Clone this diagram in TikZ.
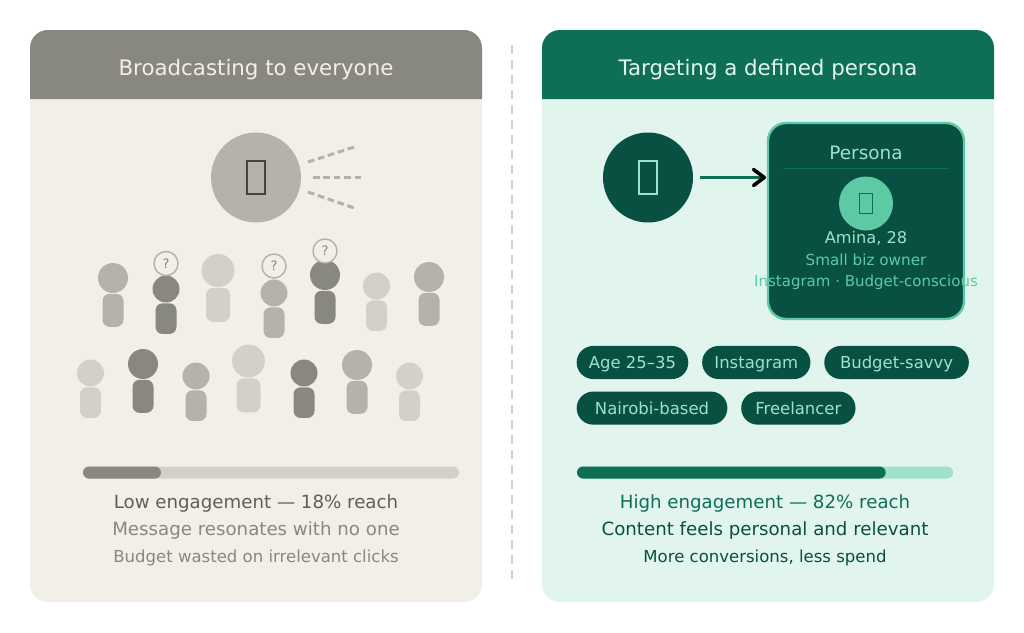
\documentclass[tikz,border=0pt]{standalone}
\usepackage{fontspec}
\setmainfont{DejaVu Sans}
\usetikzlibrary{positioning,arrows.meta}
\definecolor{GREY_DARK}{HTML}{888780}
\definecolor{GREY_MID}{HTML}{B4B2A9}
\definecolor{GREY_LIGHT}{HTML}{D3D1C7}
\definecolor{GREY_CARD}{HTML}{F1EFE8}
\definecolor{GREY_TEXT}{HTML}{5F5E5A}
\definecolor{GREY_ICON}{HTML}{444441}
\definecolor{GREEN_HEAD}{HTML}{0F6E56}
\definecolor{GREEN_DARK}{HTML}{085041}
\definecolor{GREEN_MID}{HTML}{5DCAA5}
\definecolor{GREEN_LIGHT}{HTML}{9FE1CB}
\definecolor{GREEN_CARD}{HTML}{E1F5EE}
\tikzstyle{card}=[rectangle, rounded corners=13.5pt, minimum width=339pt, minimum height=429pt, inner sep=0pt]
\tikzstyle{title}=[anchor=base, inner sep=0pt, font=\fontsize{16}{20}\selectfont]
\tikzstyle{stat_l}=[anchor=base, inner sep=0pt, font=\fontsize{13.65}{16}\selectfont]
\tikzstyle{stat_s}=[anchor=base, inner sep=0pt, font=\fontsize{12.4}{15}\selectfont]
\tikzstyle{ray}=[GREY_MID, line width=2.25pt, dash pattern=on 5pt off 2.8pt]
\tikzstyle{big_circle}=[circle, minimum size=67.5pt, inner sep=0pt]
\tikzstyle{tofu}=[rectangle, draw, line width=1.5pt, minimum width=13.5pt, minimum height=25pt, inner sep=0pt]
\tikzstyle{dark}=[fill=GREY_DARK]
\tikzstyle{mid}=[fill=GREY_MID]
\tikzstyle{light}=[fill=GREY_LIGHT]
\tikzstyle{head_s}=[circle, minimum size=20.25pt, inner sep=0pt]
\tikzstyle{head_m}=[circle, minimum size=22.5pt, inner sep=0pt]
\tikzstyle{head_l}=[circle, minimum size=24.75pt, inner sep=0pt]
\tikzstyle{body}=[rectangle, rounded corners=5.25pt, inner sep=0pt]
\tikzstyle{body_s}=[body, minimum width=15.75pt, minimum height=23pt]
\tikzstyle{body_m}=[body, minimum width=15.75pt, minimum height=24.75pt]
\tikzstyle{body_l}=[body, minimum width=18pt, minimum height=25.5pt]
\tikzstyle{ask}=[circle, draw=GREY_MID, line width=1.1pt, fill=GREY_CARD, text=GREY_DARK, minimum size=18pt, inner sep=0pt, font=\fontsize{9.75}{11}\selectfont]
\tikzstyle{pill}=[rectangle, rounded corners=12.3pt, fill=GREEN_DARK, text=GREEN_LIGHT, minimum height=24.8pt, inner sep=0pt, text height=9.6pt, text depth=0pt, font=\fontsize{12.35}{15}\selectfont]
\tikzstyle{track}=[rectangle, rounded corners=4.5pt, minimum width=282pt, minimum height=9pt, inner sep=0pt]
\tikzstyle{level}=[rectangle, rounded corners=4.5pt, minimum height=9pt, inner sep=0pt, anchor=west]

\begin{document}
\begin{tikzpicture}[x=0.75pt, y=-0.75pt, node distance = 0pt and 10pt]
      \useasboundingbox (0,0) rectangle (1024,632);

      %%%%%%%%%%%%%%%%%%%%%%%%%%%%%%%%%%%%%%%%%%
      % BROADCAST CARD
      %%%%%%%%%%%%%%%%%%%%%%%%%%%%%%%%%%%%%%%%%%
      \node[card, fill=GREY_CARD] (cardL) at (256,316) {};
      \fill[GREY_DARK, rounded corners=13.5pt] (30,99) -- (30,30) -- (482,30) [sharp corners] -- (482,99) -- cycle;
      \node[title, text=GREY_CARD] (titleL) at (256,75) {Broadcasting to everyone};

      \node[big_circle, fill=GREY_MID] (mega) at (256,177.5) {};
      \node[tofu, draw=GREY_ICON] (megaIcon) at (mega.center) {};
      \coordinate (rayA0) at (308,162);
      \coordinate (rayA1) at (355,146.7);
      \coordinate (rayB0) at (313,177.5);
      \coordinate (rayB1) at (362,177.5);
      \coordinate (rayC0) at (308,192);
      \coordinate (rayC1) at (355,208.3);
      \draw[ray] (rayA0) -- (rayA1);
      \draw[ray] (rayB0) -- (rayB1);
      \draw[ray] (rayC0) -- (rayC1);

      % top row
      \node[head_m, mid] (H1) at (113,278) {};
      \node[body_m, mid, below=0.2pt of H1] (B1) {};
      \node[head_s, dark] (H2) at (166,289) {};
      \node[body_s, dark, below=0.2pt of H2] (B2) {};
      \node[ask] (Q2) at (166,263.5) {?};
      \node[head_l, light] (H3) at (218,270.5) {};
      \node[body_l, light, below=0.2pt of H3] (B3) {};
      \node[head_s, mid] (H4) at (274,293) {};
      \node[body_s, mid, below=0.2pt of H4] (B4) {};
      \node[ask] (Q4) at (274,266) {?};
      \node[head_m, dark] (H5) at (325,275) {};
      \node[body_m, dark, below=0.2pt of H5] (B5) {};
      \node[ask] (Q5) at (325,251) {?};
      \node[head_s, light] (H6) at (376.5,286) {};
      \node[body_s, light, below=0.2pt of H6] (B6) {};
      \node[head_m, mid] (H7) at (429,277) {};
      \node[body_m, mid, below=0.2pt of H7] (B7) {};

      % bottom row
      \node[head_s, light] (H8) at (90.5,373) {};
      \node[body_s, light, below=0.2pt of H8] (B8) {};
      \node[head_m, dark] (H9) at (143,364) {};
      \node[body_m, dark, below=0.2pt of H9] (B9) {};
      \node[head_s, mid] (H10) at (196,376) {};
      \node[body_s, mid, below=0.2pt of H10] (B10) {};
      \node[head_l, light] (H11) at (248.5,361) {};
      \node[body_l, light, below=0.2pt of H11] (B11) {};
      \node[head_s, dark] (H12) at (304,373) {};
      \node[body_s, dark, below=0.2pt of H12] (B12) {};
      \node[head_m, mid] (H13) at (357,365) {};
      \node[body_m, mid, below=0.2pt of H13] (B13) {};
      \node[head_s, light] (H14) at (409.5,376) {};
      \node[body_s, light, below=0.2pt of H14] (B14) {};

      \node[track, fill=GREY_LIGHT] (barL) at (271,472.5) {};
      \node[level, fill=GREY_DARK, minimum width=58.5pt] (levelL) at (barL.west) {};
      \node[stat_l, text=GREY_TEXT] (lowA) at (256,508) {Low engagement — 18\% reach};
      \node[stat_l, text=GREY_DARK] (lowB) at (256,535.5) {Message resonates with no one};
      \node[stat_s, text=GREY_DARK] (lowC) at (256,562.5) {Budget wasted on irrelevant clicks};

      %%%%%%%%%%%%%%%%%%%%%%%%%%%%%%%%%%%%%%%%%%
      % DIVIDER
      %%%%%%%%%%%%%%%%%%%%%%%%%%%%%%%%%%%%%%%%%%
      \coordinate (divTop) at (512,45);
      \coordinate (divEnd) at (512,581);
      \draw[GREY_LIGHT, line width=1.5pt, dash pattern=on 6.75pt off 4.5pt] (divTop) -- (divEnd);

      %%%%%%%%%%%%%%%%%%%%%%%%%%%%%%%%%%%%%%%%%%
      % PERSONA CARD
      %%%%%%%%%%%%%%%%%%%%%%%%%%%%%%%%%%%%%%%%%%
      \node[card, fill=GREEN_CARD] (cardR) at (768,316) {};
      \fill[GREEN_HEAD, rounded corners=13.5pt] (542,99) -- (542,30) -- (994,30) [sharp corners] -- (994,99) -- cycle;
      \node[title, text=GREEN_CARD] (titleR) at (768,75) {Targeting a defined persona};

      \node[big_circle, fill=GREEN_DARK] (aim) at (648,177.5) {};
      \node[tofu, draw=GREEN_LIGHT] (aimIcon) at (aim.center) {};

      \node[rectangle, rounded corners=13.5pt, draw=GREEN_MID, line width=1.8pt, fill=GREEN_DARK, minimum width=147pt, minimum height=147pt, inner sep=0pt] (persona) at (866,221) {};
      \draw[GREEN_HEAD, line width=2.25pt, shorten <=5.25pt, shorten >=0.6pt, -{Straight Barb[black, round, line width=2.7pt, length=8pt, width=12pt]}] (aim.east) -- (persona.west |- aim.east);
      \node[anchor=base, inner sep=0pt, text=GREEN_LIGHT, font=\fontsize{13.8}{16}\selectfont] (personaName) at (866,159) {Persona};
      \coordinate (ruleA) at (783,168.5);
      \coordinate (ruleB) at (949,168.5);
      \draw[GREEN_HEAD, line width=0.75pt] (ruleA) -- (ruleB);
      \node[circle, fill=GREEN_MID, minimum size=40.5pt, inner sep=0pt] (avatar) at (866,203.5) {};
      \node[tofu, draw=GREEN_HEAD, line width=1pt, minimum width=9.5pt, minimum height=15pt] (avatarIcon) at (avatar.center) {};
      \node[anchor=base, inner sep=0pt, text=GREEN_LIGHT, font=\fontsize{12.15}{15}\selectfont] (amina) at (866,243.5) {Amina, 28};
      \node[anchor=base, inner sep=0pt, text=GREEN_MID, font=\fontsize{11.4}{14}\selectfont] (owner) at (866,265) {Small biz owner};
      \node[anchor=base, inner sep=0pt, text=GREEN_MID, font=\fontsize{11.25}{14}\selectfont] (traits) at (866,286) {Instagram · Budget-conscious};

      % tags
      \node[pill, minimum width=83.7pt] (tagAge) at (632.5,362.5) {Age 25–35};
      \node[pill, minimum width=81.2pt, right=10pt of tagAge] (tagInsta) {Instagram};
      \node[pill, minimum width=108.4pt, right=10pt of tagInsta] (tagBudget) {Budget-savvy};
      \node[pill, minimum width=113pt, below=9pt of tagAge.south west, anchor=north west] (tagCity) {Nairobi-based};
      \node[pill, minimum width=85.7pt, right=10pt of tagCity] (tagFree) {Freelancer};

      \node[track, fill=GREEN_LIGHT] (barR) at (765,472.5) {};
      \node[level, fill=GREEN_HEAD, minimum width=231.5pt] (levelR) at (barR.west) {};
      \node[stat_l, text=GREEN_HEAD] (highA) at (765,508) {High engagement — 82\% reach};
      \node[stat_l, text=GREEN_DARK] (highB) at (765,535.5) {Content feels personal and relevant};
      \node[stat_s, text=GREEN_DARK] (highC) at (765,562.5) {More conversions, less spend};

\end{tikzpicture}
\end{document}
